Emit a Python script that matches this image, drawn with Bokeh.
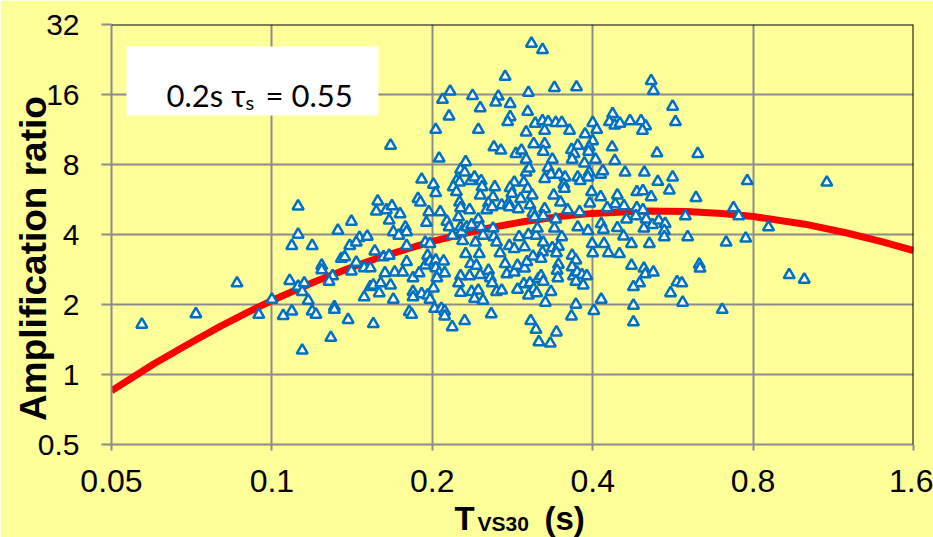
import math
from bokeh.plotting import figure
from bokeh.models import Range1d, FixedTicker, CustomJSTickFormatter, Span, BoxAnnotation, Label
from bokeh.core.properties import value
from bokeh.embed import file_html
from bokeh.resources import INLINE

# ---------------- data ----------------
x_ticks = [0.05, 0.1, 0.2, 0.4, 0.8, 1.6]
y_ticks = [0.5, 1, 2, 4, 8, 16, 32]

curve_T = [0.05, 0.06, 0.07, 0.08, 0.09, 0.1, 0.12, 0.14, 0.16, 0.2, 0.25, 0.3,
           0.35, 0.4, 0.5, 0.6, 0.7, 0.8, 1.0, 1.2, 1.4, 1.6]
curve_A = [0.85, 1.11, 1.36, 1.61, 1.85, 2.08, 2.50, 2.87, 3.20, 3.74, 4.23, 4.56,
           4.79, 4.93, 5.05, 5.02, 4.92, 4.78, 4.43, 4.06, 3.72, 3.41]

T_vs30 = [
    0.057, 0.072, 0.086, 0.0945, 0.1, 0.112, 0.112, 0.109, 0.119, 0.133, 0.141, 0.146, 0.151, 0.158, 0.157, 0.156,
    0.144, 0.141, 0.135, 0.137, 0.149, 0.153, 0.153, 0.149, 0.159, 0.124, 0.124, 0.13, 0.128, 0.108, 0.112, 0.115,
    0.114, 0.117, 0.105, 0.109, 0.119, 0.121, 0.131, 0.131, 0.139, 0.155, 0.129, 0.114, 0.140, 0.144,
    0.167, 0.191, 0.201, 0.203, 0.206, 0.203, 0.209, 0.216, 0.215, 0.238, 0.246, 0.244, 0.274, 0.266, 0.263, 0.28,
    0.28, 0.277, 0.303, 0.302, 0.3, 0.312, 0.31, 0.307, 0.261, 0.269, 0.287, 0.294, 0.3, 0.231, 0.226, 0.23,
    0.236, 0.24, 0.247, 0.222, 0.225, 0.219, 0.222, 0.248, 0.246, 0.262, 0.285, 0.28, 0.282, 0.297, 0.3, 0.304,
    0.302, 0.308, 0.188, 0.26,
    0.322, 0.339, 0.373, 0.515, 0.52, 0.565, 0.572, 0.436, 0.43, 0.44, 0.45, 0.47, 0.493, 0.503, 0.496, 0.4,
    0.407, 0.322, 0.33, 0.341, 0.35, 0.325, 0.362, 0.387, 0.4, 0.325, 0.323, 0.375, 0.365, 0.394, 0.369, 0.366,
    0.393, 0.435, 0.405, 0.44, 0.528, 0.336, 0.386, 0.33, 0.334, 0.325, 0.346, 0.355, 0.353, 0.375, 0.379, 0.394,
    0.392, 0.414, 0.418, 0.46, 0.5, 0.53, 0.565, 0.557, 0.484, 0.497, 0.515, 0.445, 0.414, 0.398, 0.354, 0.338,
    0.164, 0.168, 0.166, 0.174, 0.19, 0.197, 0.195, 0.178, 0.179, 0.169, 0.173, 0.162, 0.166, 0.179, 0.179, 0.163,
    0.17, 0.176, 0.184, 0.189, 0.194, 0.155, 0.16, 0.167, 0.169, 0.184, 0.184, 0.191, 0.196, 0.198, 0.201, 0.194,
    0.198, 0.196, 0.198, 0.203, 0.21, 0.203, 0.206, 0.211, 0.204, 0.181, 0.183, 0.202, 0.208, 0.211, 0.211, 0.218,
    0.23, 0.258, 0.306, 0.313, 0.317, 0.207, 0.213, 0.215, 0.225, 0.226, 0.235, 0.224, 0.226, 0.218, 0.227, 0.228,
    0.232, 0.237, 0.244, 0.255, 0.253, 0.259, 0.27, 0.278, 0.279, 0.29, 0.293, 0.305, 0.309, 0.311, 0.247, 0.26,
    0.249, 0.261, 0.264, 0.241, 0.231, 0.245, 0.268, 0.236, 0.242, 0.235, 0.246, 0.226, 0.224, 0.226, 0.237, 0.244,
    0.24, 0.249, 0.255, 0.257, 0.259, 0.264, 0.27, 0.274, 0.276, 0.285, 0.289, 0.298, 0.301, 0.279, 0.285, 0.298,
    0.309, 0.291, 0.303, 0.313, 0.297, 0.305, 0.31, 0.316, 0.303, 0.289,
    0.348, 0.325, 0.323, 0.341, 0.359, 0.378, 0.395, 0.426, 0.441, 0.458, 0.484, 0.497, 0.482, 0.463, 0.504, 0.518,
    0.532, 0.547, 0.597, 0.499, 0.545, 0.545, 0.603, 0.315, 0.339, 0.35, 0.375, 0.392, 0.415, 0.419, 0.445, 0.457,
    0.323, 0.336, 0.345, 0.322, 0.342, 0.32, 0.366, 0.372, 0.399, 0.4, 0.42, 0.428, 0.449, 0.473, 0.511, 0.473,
    0.499, 0.502, 0.52, 0.49, 0.477, 0.576, 0.588, 0.56, 0.59, 0.345, 0.343, 0.344, 0.366, 0.368, 0.374, 0.382,
    0.39, 0.372, 0.384, 0.32, 0.323, 0.314, 0.334, 0.326, 0.415, 0.372, 0.402, 0.477, 0.365, 0.342, 0.333, 0.477,
    0.63, 0.78, 1.1, 0.625, 0.735, 0.752, 0.855, 0.712, 0.775, 0.634, 0.636, 0.7, 0.935, 0.998,
]
amp = [
    1.64, 1.82, 2.47, 1.81, 2.10, 5.29, 4.0, 3.58, 3.58, 4.16, 4.55, 3.87, 3.92, 5.56, 5.03, 3.39,
    3.03, 2.78, 3.15, 3.2, 2.87, 2.87, 2.38, 2.15, 2.24, 2.94, 2.81, 2.65, 2.51, 2.53, 2.39, 2.47,
    2.27, 2.08, 1.79, 1.87, 1.87, 1.81, 1.95, 1.9, 1.72, 1.65, 1.44, 1.27, 3.58, 3.7,
    9.65, 6.9, 6.56, 6.04, 8.5, 11.3, 15.2, 16.5, 12.9, 15.8, 14.0, 11.3, 19.1, 15.7, 14.8, 14.6,
    12.8, 12.2, 16.3, 13.5, 11.0, 12.0, 9.8, 26.5, 9.5, 9.2, 8.9, 9.2, 8.4, 8.2, 7.6, 7.4,
    6.8, 7.05, 6.8, 6.8, 6.7, 6.4, 6.1, 6.4, 5.9, 6.4, 6.7, 6.35, 6.0, 6.7, 7.4, 7.7,
    6.3, 5.9, 5.7, 5.8,
    24.9, 17.1, 17.2, 18.3, 16.6, 14.2, 12.2, 13.2, 12.2, 11.8, 12.0, 12.3, 12.3, 11.7, 11.2, 12.1,
    11.3, 12.3, 12.2, 12.1, 12.1, 11.2, 11.2, 10.8, 10.1, 9.8, 9.1, 9.65, 9.25, 9.5, 8.9, 8.4,
    9.1, 9.5, 8.4, 8.3, 8.95, 8.4, 8.1, 7.75, 7.24, 6.95, 7.24, 7.05, 6.56, 7.05, 6.8, 7.4,
    7.05, 7.24, 7.5, 7.4, 7.4, 6.75, 7.05, 6.2, 6.1, 6.15, 5.8, 5.9, 5.8, 6.1, 6.3, 5.9,
    5.1, 5.3, 4.6, 4.9, 5.5, 5.0, 4.5, 4.3, 4.1, 4.1, 3.96, 3.2, 3.25, 3.58, 3.05, 2.73,
    2.75, 2.75, 2.6, 2.73, 2.95, 2.42, 2.47, 2.42, 2.1, 2.27, 2.15, 2.22, 2.19, 2.1, 2.35, 3.7,
    3.65, 3.25, 3.07, 3.1, 3.07, 2.87, 2.73, 2.73, 2.6, 1.86, 1.81, 1.92, 1.92, 1.87, 1.78, 1.6,
    1.7, 1.82, 1.7, 1.56, 1.38, 5.0, 4.55, 4.3, 5.5, 5.2, 5.1, 4.75, 4.3, 3.96, 4.1, 3.76,
    4.3, 4.4, 4.65, 5.45, 5.1, 5.25, 5.35, 5.45, 5.25, 5.15, 5.7, 5.35, 4.95, 4.75, 4.3, 4.25,
    3.96, 3.9, 3.7, 3.7, 3.3, 3.3, 3.33, 2.99, 2.94, 2.65, 2.68, 2.65, 2.47, 2.25, 2.27, 2.3,
    2.12, 2.08, 2.8, 2.6, 2.47, 2.27, 2.3, 2.99, 2.7, 2.75, 2.94, 2.86, 3.05, 3.58, 3.47, 3.53,
    3.22, 3.9, 3.99, 3.96, 2.45, 2.47, 2.33, 2.57, 2.19, 2.32,
    5.5, 5.15, 4.8, 4.65, 5.1, 5.0, 5.45, 5.2, 5.4, 5.3, 5.2, 5.1, 4.8, 4.65, 4.65, 4.4,
    4.6, 4.45, 4.8, 4.25, 4.15, 3.9, 3.9, 4.25, 4.25, 3.9, 4.3, 4.15, 4.45, 4.2, 4.27, 3.93,
    3.7, 3.5, 3.55, 3.36, 3.33, 3.15, 3.25, 3.1, 3.65, 3.33, 3.65, 3.33, 3.3, 3.65, 3.65, 2.94,
    2.86, 2.7, 2.75, 2.47, 2.38, 2.5, 2.47, 2.24, 2.04, 2.97, 2.8, 2.6, 2.9, 2.65, 2.75, 2.68,
    2.65, 2.51, 2.42, 2.65, 2.51, 2.24, 2.27, 2.04, 2.1, 2.0, 1.88, 1.98, 1.78, 1.52, 1.36, 1.68,
    8.9, 6.8, 6.7, 5.75, 5.2, 4.8, 4.3, 3.7, 3.85, 2.97, 2.86, 1.9, 2.68, 2.56,
]

BG = "#FFFF99"
GRID = "#8C8C8C"


# helpers to place annotations at reference-pixel positions
def pxT(px):
    return 0.05 * 2 ** ((px - 111) / 160.4)


def pxA(py):
    return 0.5 * 2 ** ((444 - py) / 70.0)


p = figure(width=933, height=537, x_axis_type="log", y_axis_type="log",
           x_range=Range1d(0.05, 1.6), y_range=Range1d(0.5, 32),
           output_backend="svg", toolbar_location=None,
           min_border_left=111, min_border_right=20, min_border_top=24, min_border_bottom=93,
           background_fill_color=BG, border_fill_color=BG)
p.outline_line_color = None

p.xaxis.ticker = FixedTicker(ticks=x_ticks, minor_ticks=[])
p.yaxis.ticker = FixedTicker(ticks=y_ticks, minor_ticks=[])
for ax in (p.xaxis[0], p.yaxis[0]):
    ax.axis_line_color = GRID
    ax.axis_line_width = 2
    ax.major_tick_line_color = GRID
    ax.major_tick_line_width = 2
    ax.major_tick_in = 0
    ax.minor_tick_line_color = None
    ax.major_label_text_font = "Liberation Sans"
    ax.major_label_text_color = "black"
    ax.formatter = CustomJSTickFormatter(code="return tick.toString();")
p.xaxis.major_tick_out = 6
p.xaxis.major_label_text_font_size = "32px"
p.xaxis.major_label_standoff = 19
p.yaxis.major_tick_out = 10
p.yaxis.major_label_text_font_size = "30px"
p.yaxis.major_label_standoff = 22

p.grid.grid_line_color = GRID
p.grid.grid_line_width = 2
p.grid.minor_grid_line_color = None

p.add_layout(Span(location=1.6, dimension="height", line_color="black", line_width=2))
p.add_layout(Span(location=32, dimension="width", line_color="black", line_width=2))

p.line(curve_T, curve_A, line_color="#FF0000", line_width=7)
p.scatter(T_vs30, amp, marker="triangle", size=11, line_color="#0070C0",
          line_width=2.5, fill_color="white")

# text box
p.add_layout(BoxAnnotation(left=pxT(126), right=pxT(378), top=pxA(46), bottom=pxA(115),
                           fill_color="white", fill_alpha=1.0, line_color=None))
p.add_layout(Label(x=pxT(166), y=pxA(94), text="0.2s \u03c4", text_font="Lato",
                   text_font_size="31px", text_color="black", text_baseline="alphabetic"))
p.add_layout(Label(x=pxT(245), y=pxA(101), text="s", text_font="Lato",
                   text_font_size="20px", text_color="black", text_baseline="alphabetic"))
p.add_layout(Label(x=pxT(265), y=pxA(94), text="= 0.55", text_font="Lato",
                   text_font_size="31px", text_color="black", text_baseline="alphabetic"))

# axis titles: text glyphs at overlay level (drawn outside the frame)
p.text(x=[pxT(33)], y=[pxA(258)], text=["Amplification ratio"], angle=math.pi / 2,
       text_align="center", text_baseline="middle", text_font=value("Liberation Sans"),
       text_font_style="bold", text_font_size="37px", text_color="black", level="overlay")
p.text(x=[pxT(454), pxT(544)], y=[pxA(518), pxA(518)], text=["T", "(s)"],
       text_align="left", text_baseline="middle", text_font=value("Liberation Sans"),
       text_font_style="bold", text_font_size="33px", text_color="black", level="overlay")
p.text(x=[pxT(477)], y=[pxA(523)], text=["VS30"],
       text_align="left", text_baseline="middle", text_font=value("Liberation Sans"),
       text_font_style="bold", text_font_size="21px", text_color="black", level="overlay")

html = file_html(p, INLINE)
open("out.html", "w").write(html)
